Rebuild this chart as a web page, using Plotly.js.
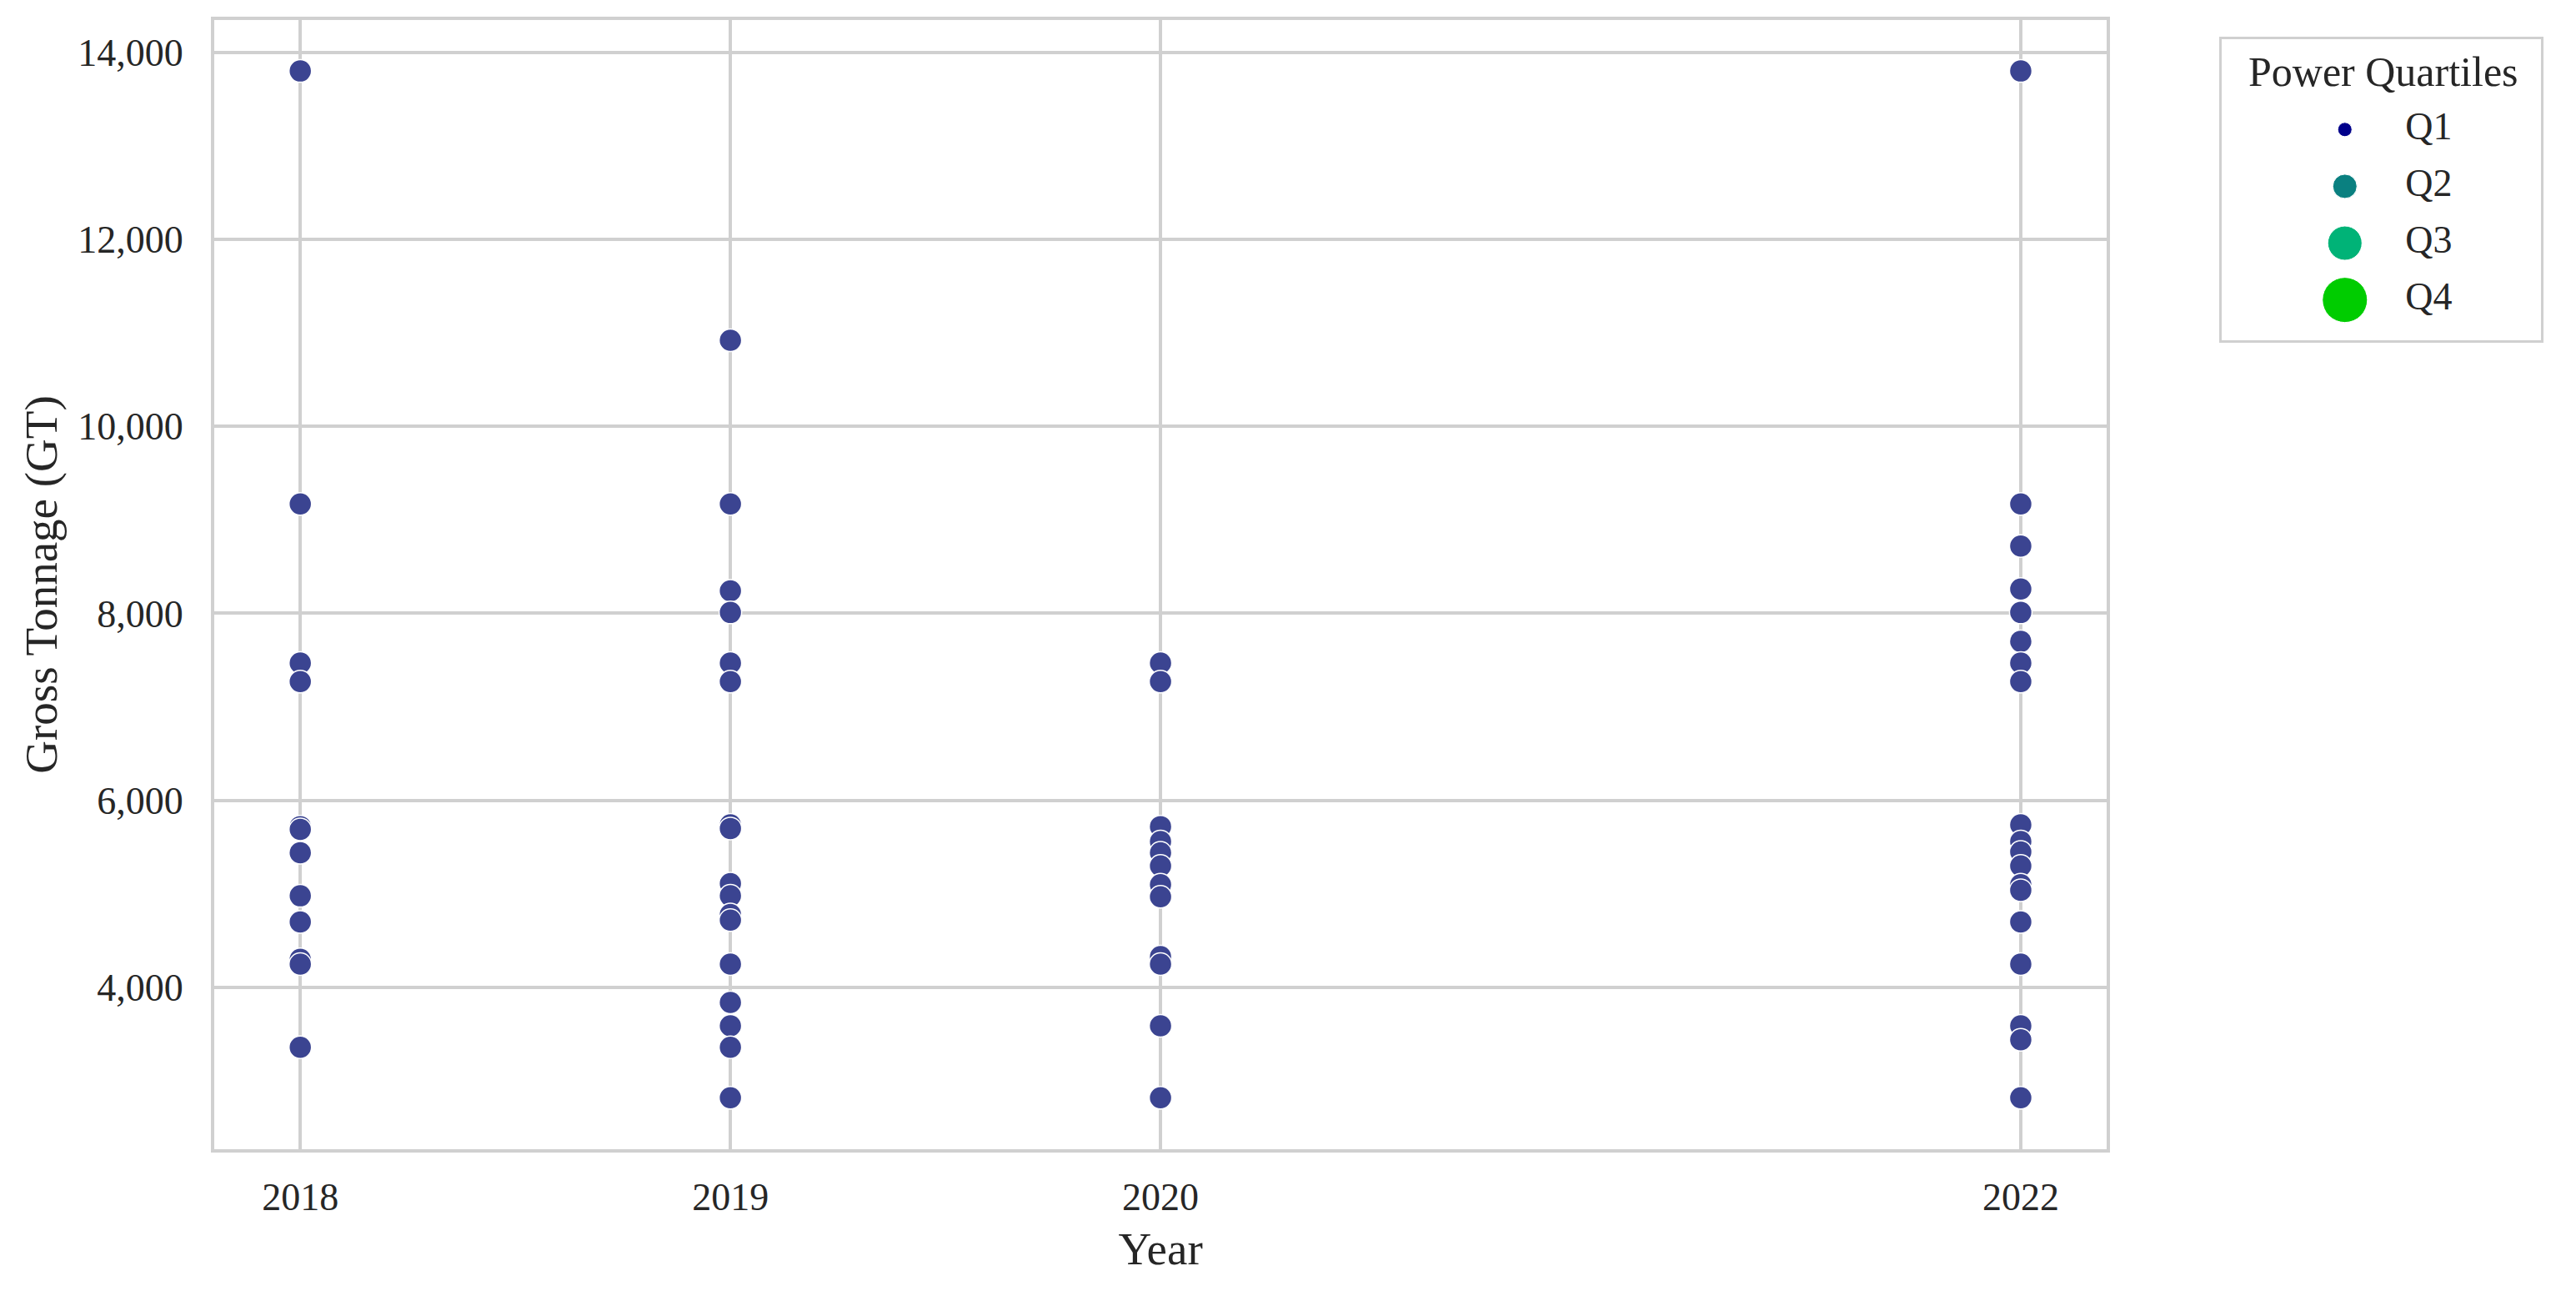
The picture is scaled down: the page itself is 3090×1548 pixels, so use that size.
<!DOCTYPE html>
<html>
<head>
<meta charset="utf-8">
<script src="https://cdn.plot.ly/plotly-3.0.1.min.js"></script>
<style>
  body { margin: 0; background: #fff; }
  #chart { width: 3090px; height: 1548px; }
</style>
</head>
<body>
<div id="chart"></div>
<script>
// gross tonnage per survey year
var years = [2018, 2019, 2020, 2022];
var gt2018 = [13800, 9170, 7470, 7270, 5720, 5690, 5440, 4980, 4700, 4300, 4250, 3360];
var gt2019 = [10920, 9170, 8240, 8010, 7470, 7270, 5740, 5700, 5110, 4980, 4780, 4720, 4250, 3840, 3590, 3360, 2820];
var gt2020 = [7470, 7270, 5720, 5560, 5440, 5300, 5100, 4970, 4330, 4250, 3590, 2820];
var gt2022 = [13800, 9170, 8720, 8260, 8010, 7700, 7470, 7270, 5740, 5560, 5450, 5300, 5100, 5040, 4700, 4250, 3590, 3440, 2820];

var yTicks = [4000, 6000, 8000, 10000, 12000, 14000];
var quartiles = ['Q1', 'Q2', 'Q3', 'Q4'];
var quartileColors = ['#00008b', '#0a8080', '#00b377', '#00cc00'];

var tonnageByYear = [gt2018, gt2019, gt2020, gt2022];
var xs = [], ys = [];
tonnageByYear.forEach(function (vals, i) {
  vals.forEach(function (v) {
    xs.push(years[i]);
    ys.push(v);
  });
});

var serif = "'Palatino Linotype', Palatino, 'Liberation Serif', serif";
var ink = '#262626';
var gridGrey = '#d0d0d0';

var points = {
  x: xs,
  y: ys,
  type: 'scatter',
  mode: 'markers',
  marker: { size: 27, color: '#3b4491', opacity: 1, line: { color: '#ffffff', width: 1.5 } },
  showlegend: false
};

// legend drawn as a tiny subplot so the marker sizes can grow like seaborn's
var legendMarkers = {
  x: quartiles.map(function () { return 0.386; }),
  y: quartiles,
  xaxis: 'x2',
  yaxis: 'y2',
  type: 'scatter',
  mode: 'markers',
  marker: { size: [17, 29, 41, 54], color: quartileColors, opacity: 1, line: { color: '#ffffff', width: 1 } },
  showlegend: false,
  hoverinfo: 'skip'
};
var legendText = {
  x: quartiles.map(function () { return 0.575; }),
  y: quartiles,
  text: quartiles,
  xaxis: 'x2',
  yaxis: 'y2',
  type: 'scatter',
  mode: 'text',
  textposition: 'middle right',
  textfont: { family: serif, size: 46, color: ink },
  showlegend: false,
  hoverinfo: 'skip'
};

var layout = {
  width: 3090,
  height: 1548,
  margin: { l: 257, r: 40, t: 24, b: 170 },
  paper_bgcolor: '#ffffff',
  plot_bgcolor: '#ffffff',
  font: { family: serif, size: 46, color: ink },
  xaxis: {
    domain: [0, 0.8128],
    range: [2017.8, 2022.2],
    tickvals: years,
    ticktext: years.map(String),
    showgrid: true,
    gridcolor: gridGrey,
    gridwidth: 3.5,
    zeroline: false,
    showline: true,
    mirror: true,
    linecolor: gridGrey,
    linewidth: 4,
    ticks: '',
    ticklabelstandoff: 14,
    automargin: false,
    title: { text: 'Year', standoff: 18 }
  },
  yaxis: {
    range: [2270, 14345],
    tickvals: yTicks,
    tickformat: ',d',
    showgrid: true,
    gridcolor: gridGrey,
    gridwidth: 3.5,
    zeroline: false,
    showline: true,
    mirror: true,
    linecolor: gridGrey,
    linewidth: 4,
    ticks: '',
    ticklabelstandoff: 24,
    automargin: false,
    title: { text: 'Gross Tonnage (GT)', standoff: 8 }
  },
  xaxis2: {
    domain: [0.8621, 0.9993],
    anchor: 'y2',
    range: [0, 1],
    showgrid: false,
    zeroline: false,
    showticklabels: false,
    ticks: '',
    showline: true,
    mirror: true,
    linecolor: gridGrey,
    linewidth: 3
  },
  yaxis2: {
    domain: [0.7164, 0.983],
    anchor: 'x2',
    type: 'category',
    categoryarray: quartiles,
    range: [3.71, -1.59],
    showgrid: false,
    zeroline: false,
    showticklabels: false,
    ticks: '',
    showline: true,
    mirror: true,
    linecolor: gridGrey,
    linewidth: 3
  },
  annotations: [{
    text: 'Power Quartiles',
    xref: 'x2 domain',
    yref: 'y2 domain',
    x: 0.506,
    y: 0.892,
    xanchor: 'center',
    yanchor: 'middle',
    showarrow: false,
    font: { family: serif, size: 50, color: ink }
  }]
};

Plotly.newPlot('chart', [points, legendMarkers, legendText], layout, { displayModeBar: false });
</script>
</body>
</html>
